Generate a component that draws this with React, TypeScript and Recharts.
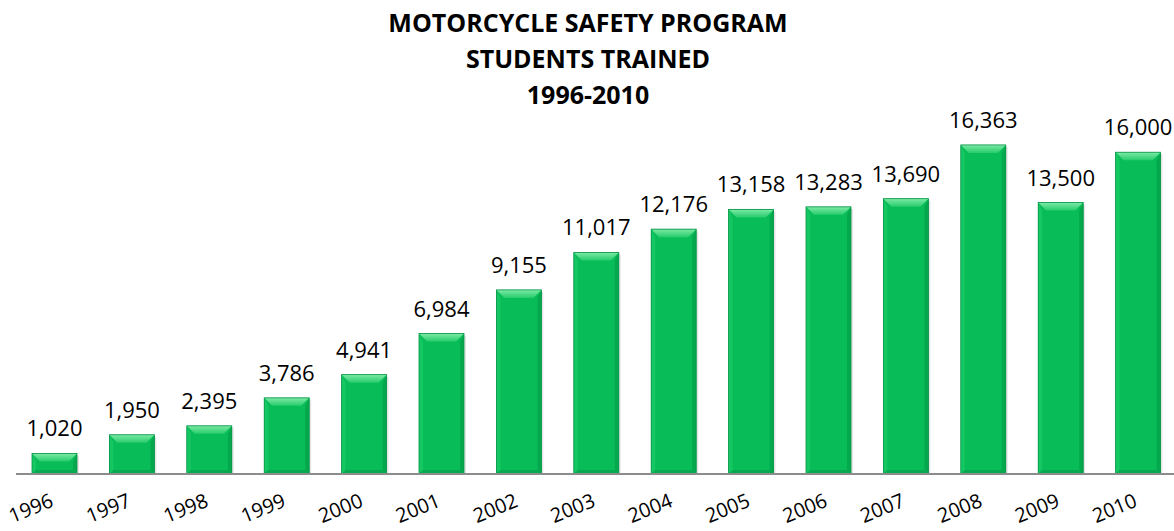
import { Bar, BarChart, LabelList, XAxis, YAxis } from 'recharts';

const years = [
  '1996', '1997', '1998', '1999', '2000', '2001', '2002', '2003',
  '2004', '2005', '2006', '2007', '2008', '2009', '2010',
];
const studentsTrained = [
  1020, 1950, 2395, 3786, 4941, 6984, 9155, 11017,
  12176, 13158, 13283, 13690, 16363, 13500, 16000,
];
const titleLines = ['MOTORCYCLE SAFETY PROGRAM', 'STUDENTS TRAINED', '1996-2010'];

const data = years.map((year, i) => ({ year, students: studentsTrained[i] }));

const FONT = '"Open Sans", "Noto Sans", sans-serif';

function BevelBar(props: any) {
  const { x, y, width, height } = props;
  if (!height || height <= 0) return null;
  const b = Math.min(8, height / 2);
  const s = 4;
  return (
    <g>
      <rect x={x + 2} y={y + 2} width={width} height={height - 2} fill="rgba(0,0,0,0.10)" />
      <rect x={x} y={y} width={width} height={height} fill="#08bd58" />
      <polygon
        points={`${x},${y} ${x + s},${y + b} ${x + s},${y + height - s} ${x},${y + height}`}
        fill="#14c763"
      />
      <polygon
        points={`${x + width},${y} ${x + width - s},${y + b} ${x + width - s},${y + height - s} ${x + width},${y + height}`}
        fill="#06a84e"
      />
      <polygon
        points={`${x},${y + height} ${x + s},${y + height - s} ${x + width - s},${y + height - s} ${x + width},${y + height}`}
        fill="#08a950"
      />
      <polygon
        points={`${x},${y} ${x + width},${y} ${x + width - b},${y + b} ${x + b},${y + b}`}
        fill="url(#bevelTop)"
      />
      <rect x={x} y={y} width={width} height={height} fill="none" stroke="#079447" strokeWidth={0.8} />
    </g>
  );
}

function YearTick(props: any) {
  const { x, y, payload } = props;
  return (
    <text
      transform={`translate(${x},${y + 24}) rotate(-22)`}
      textAnchor="end"
      fontFamily={FONT}
      fontSize={20}
      fill="#000"
    >
      {payload.value}
    </text>
  );
}

export default function App() {
  return (
    <div
      style={{
        position: 'absolute',
        left: 0,
        top: 0,
        width: 1174,
        height: 531,
        overflow: 'hidden',
        background: '#fff',
      }}
    >
      <div
        style={{
          position: 'absolute',
          left: 0,
          top: 4,
          width: 1176,
          textAlign: 'center',
          fontFamily: FONT,
          fontWeight: 700,
          fontSize: 25,
          lineHeight: '36px',
          color: '#000',
        }}
      >
        {titleLines.map((line) => (
          <div key={line}>{line}</div>
        ))}
      </div>
      <BarChart
        width={1180}
        height={531}
        data={data}
        margin={{ top: 112, right: 3, left: 16, bottom: 17 }}
        barSize={45}
      >
        <defs>
          <linearGradient id="bevelTop" x1="0" y1="0" x2="0" y2="1">
            <stop offset="0%" stopColor="#7deaa6" />
            <stop offset="100%" stopColor="#27cc6c" />
          </linearGradient>
        </defs>
        <YAxis hide domain={[0, 18000]} />
        <XAxis
          dataKey="year"
          height={40}
          interval={0}
          tickLine={false}
          axisLine={{ stroke: '#8c8c8c', strokeWidth: 2 }}
          tick={<YearTick />}
        />
        <Bar dataKey="students" shape={<BevelBar />} isAnimationActive={false}>
          <LabelList
            dataKey="students"
            position="top"
            offset={17}
            fontFamily={FONT}
            fontSize={22}
            fill="#000"
            formatter={(v: any) => Number(v).toLocaleString('en-US')}
          />
        </Bar>
      </BarChart>
    </div>
  );
}
